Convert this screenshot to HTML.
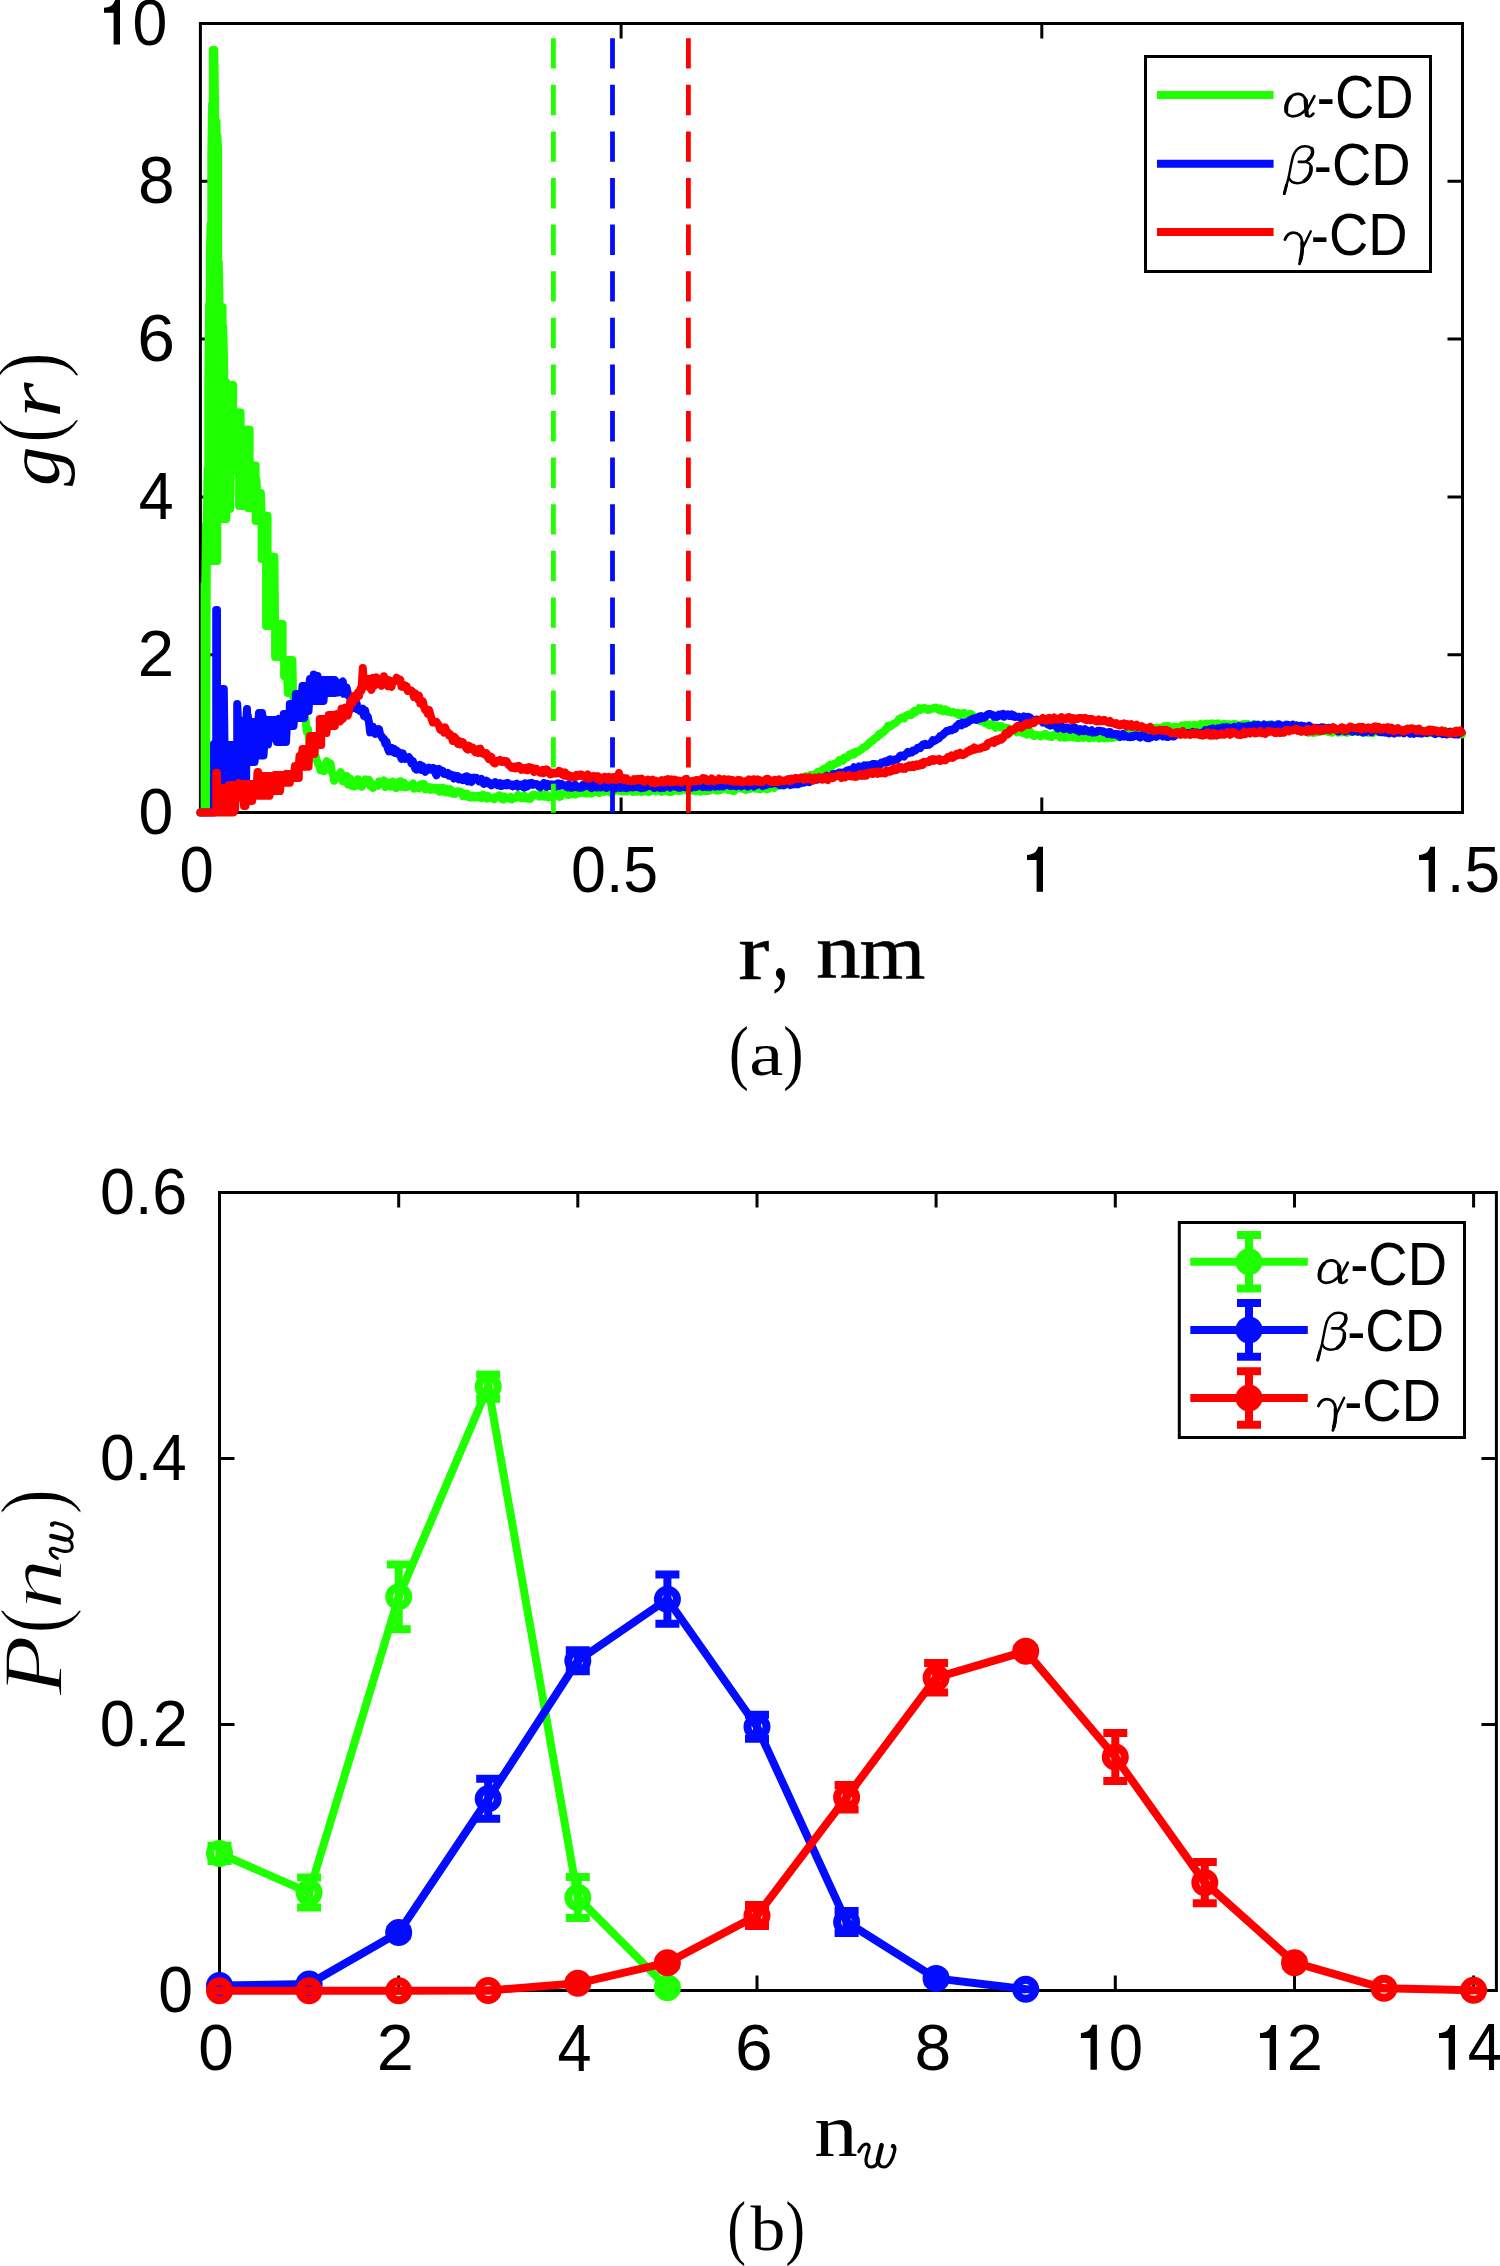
<!DOCTYPE html><html><head><meta charset="utf-8"><style>html,body{margin:0;padding:0;background:#fff;overflow:hidden}svg{display:block}.s{font-family:"Liberation Sans",sans-serif}.m{font-family:"Liberation Serif",serif}</style></head><body>
<svg width="1500" height="2266" viewBox="0 0 1500 2266">
<rect width="1500" height="2266" fill="#fff"/>
<path d="M200.4 23.4H1462.5V812.5H200.4ZM200.4 654.7h13.5M1462.5 654.7h-13.5M200.4 496.9h13.5M1462.5 496.9h-13.5M200.4 339h13.5M1462.5 339h-13.5M200.4 181.2h13.5M1462.5 181.2h-13.5M621.1 812.5v-13.5M621.1 23.4v13.5M1041.8 812.5v-13.5M1041.8 23.4v13.5" fill="none" stroke="#000" stroke-width="3" stroke-linecap="square"/>
<path d="M200.4 812.5L204.6 812.5L204.6 584L204.6 808L205.3 808L205.3 584L206.1 524L206.1 808L206.8 561L206.8 524L207.6 469L207.6 561L208.3 561L208.3 384L209.1 304L209.1 561L209.8 561L209.8 254L210.6 224L210.6 561L211.3 561L211.3 154L212.1 104L212.1 561L212.8 561L212.8 50L213.6 50L213.6 561L214.3 561L214.3 50L215.1 107.6L215.1 561L215.8 561L215.8 122L216.6 122L216.6 561L217.3 561L217.3 135.5L218.1 149L218.1 519L218.8 519L218.8 262L219.6 307L219.6 519L220.3 519L220.3 307L221.1 307L221.1 519L221.8 519L221.8 307L222.6 307L222.6 519L223.3 519L223.3 327L224.1 364L224.1 519L224.8 519L224.8 382L225.6 382L225.6 519L226.3 519L226.3 382L227.1 385L227.1 509L227.8 509L227.8 385L228.6 385L228.6 509L229.3 509L229.3 385L230.1 385L230.1 509L230.8 470L230.8 385L231.6 385L231.6 470L232.3 470L232.3 385L233.1 385L233.1 470L233.8 470L233.8 412.5L234.6 412.5L234.6 470L235.3 470L235.3 412.5L236.1 412.5L236.1 470L236.8 470L236.8 412.5L237.6 412.5L237.6 470L238.3 470L238.3 412.5L239.1 412.5L239.1 506L239.8 506L239.8 412.5L240.6 412.5L240.6 506L241.3 506L241.3 429.7L242.1 429.7L242.1 506L242.8 506L242.8 429.7L243.6 429.7L243.6 506L244.3 506L244.3 429.7L245.1 429.7L245.1 506L245.8 506L245.8 429.7L246.6 429.7L246.6 506L247.3 506L247.3 429.7L248.1 429.7L248.1 508L248.8 508L248.8 429.7L249.6 429.7L249.6 508L250.3 508L250.3 465.5L251.1 465.5L251.1 508L251.8 508L251.8 465.5L252.6 465.5L252.6 508L253.3 508L253.3 465.5L254.1 465.5L254.1 508L254.8 508L254.8 465.5L255.6 465.5L255.6 521L256.4 521L256.4 479.3L257.1 493L257.1 521L257.9 521L257.9 493L258.6 493L258.6 521L259.4 521L259.4 493L260.1 493L260.1 521L260.9 521L260.9 493L261.6 515.8L261.6 559L262.4 559L262.4 515.8L263.1 515.8L263.1 559L263.9 559L263.9 515.8L264.6 515.8L264.6 559L265.4 559L265.4 515.8L266.1 515.8L266.1 626L266.9 626L266.9 515.8L267.6 515.8L267.6 626L268.4 626L268.4 556.8L269.1 556.8L269.1 626L269.9 626L269.9 556.8L270.6 556.8L270.6 626L271.4 626L271.4 556.8L272.1 556.8L272.1 626L272.9 626L272.9 556.8L273.6 556.8L273.6 626L274.4 626L274.4 556.8L275.1 624L275.1 657L275.9 657L275.9 624L276.6 624L276.6 657L277.4 657L277.4 624L278.1 624L278.1 657L278.9 657L278.9 624L279.6 624L279.6 657L280.4 657L280.4 624L281.1 624L281.1 657L281.9 657L281.9 624L282.6 624L282.6 657L283.4 658.5L284.1 660L284.1 676L284.9 676L284.9 660L285.6 660L285.6 676L286.4 676L286.4 660L287.1 660L287.1 676L287.9 693L287.9 660L288.6 660L288.6 693L289.4 693L289.4 660L290.1 660L290.1 693L290.9 693L290.9 660L291.6 660L291.6 693L292.4 693L292.4 660L293.1 697L293.9 697L294.6 701L294.6 701L295.4 701L295.4 701L296.1 701L296.1 701L296.9 701L296.9 701L297.6 701L297.6 701L298.4 701L298.4 701L300.5 707.5L301.8 714L303 717.5L304.2 715.2L305.5 719.3L306.8 731.6L308 729.2L309.2 741.6L310.5 749.4L311.8 751.3L313 751.7L314.2 753.5L315.5 755.6L316.8 760.2L318 763.9L319.2 764.9L320.5 770.3L321.8 769.5L323 767.3L324.2 771.2L325.5 763.8L326.8 761.3L328 767.8L329.2 764.6L330.5 763.6L331.8 771.8L333 774.6L334.2 780.8L335.5 779.2L336.8 777.5L338 777.5L339.2 775.1L340.5 772.1L341.8 774.3L343 781.3L344.2 777.7L345.5 778.9L346.8 775.9L348 784.4L349.2 779.3L350.5 778.8L351.8 785.9L353 783.6L354.2 786.3L355.5 785L356.8 785.6L358 779.3L359.2 782.3L360.5 783.2L361.8 786.8L363 782.8L364.2 783.9L365.5 779.4L366.8 781.4L368 781.7L369.2 780L370.5 785.9L371.8 783.5L373 788L374.2 785.9L375.5 785.1L376.8 785.4L378 785.8L379.2 781.4L380.5 782.8L381.8 781.7L383 782.6L384.2 780.5L385.5 787L386.8 782.6L388 784.8L389.2 782.8L390.5 786.6L391.8 786L393 781.5L394.2 785.9L395.5 788L396.8 787.9L398 785.3L399.2 781.5L400.5 781.2L401.8 786.9L403 785.8L404.2 782.8L405.5 787.4L406.8 787.2L408 786.6L409.2 785.4L410.5 785.6L411.8 784.8L413 783.5L414.2 788.7L415.5 787.4L416.8 787.3L418 785.9L419.2 788.3L420.5 784.4L421.8 785.4L423 783.8L424.2 783.9L425.5 789.3L426.8 788.7L428 787L429.2 787.4L430.5 789.8L431.8 787.4L433 788.2L434.2 789.3L435.5 787.7L436.8 788.4L438 790.2L439.2 791.6L440.5 787.7L441.8 791.4L443 787.5L444.2 790.7L445.5 792.3L446.8 789L448 789.9L449.2 792.7L450.5 789.2L451.8 791.7L453 793.7L454.2 792.7L455.5 793.7L456.8 791.7L458 791.2L459.2 792.2L460.5 791.8L461.8 792.7L463 796.2L464.2 795.3L465.5 794L466.8 793.6L468 797L469.2 795.5L470.5 797.5L471.8 796L473 795.6L474.2 797.5L475.5 797.3L476.8 796.4L478 795.6L479.2 797.6L480.5 796.1L481.8 798L483 794.7L484.2 795.5L485.5 796.4L486.8 798.6L488 796L489.2 797.8L490.5 797.9L491.8 798.1L493 797.8L494.2 799.3L495.5 797L496.8 796.6L498 795.9L499.2 795.2L500.5 795.8L501.8 799.1L503 799.6L504.2 796.5L505.5 797.9L506.8 798L508 798.3L509.2 798.6L510.5 797.1L511.8 799.4L513 797.9L514.2 797.9L515.5 798L516.8 796.1L518 795L519.2 796.2L520.5 798L521.8 798.5L523 798.2L524.2 795.7L525.5 798.3L526.8 798.6L528 798.8L529.2 797.5L530.5 798.7L531.8 795.6L533 794.7L534.2 794.6L535.5 795.4L536.8 795.5L538 795.2L539.2 796.5L540.5 794.7L541.8 796.3L543 795.1L544.2 796.6L545.5 794.4L546.8 794.8L548 797.4L549.2 796.4L550.5 796.9L551.8 796.5L553 796.1L554.2 794.4L555.5 795.3L556.8 793.6L558 795.8L559.2 797L560.5 796.7L561.8 793.4L563 793.5L564.2 793.5L565.5 792.6L566.8 794.1L568 795L569.2 793.2L570.5 794.5L571.8 794.6L573 791.9L574.2 793.6L575.5 794.5L576.8 792L578 792.7L579.2 793.2L580.5 793.1L581.8 791.2L583 792.7L584.2 793L585.5 793.6L586.8 793.6L588 791.8L589.2 792.7L590.5 793.5L591.8 793.7L593 791L594.2 789.9L595.5 791.9L596.8 790.8L598 791.6L599.2 793.1L600.5 791.5L601.8 790.5L603 791.1L604.2 791.9L605.5 790.2L606.8 790.6L608 790L609.2 791.6L610.5 792.6L611.8 791.1L613 790.7L614.2 791.3L615.5 790.3L616.8 790.1L618 790.4L619.2 790.9L620.5 789.7L621.8 791.6L623 791.6L624.2 790.4L625.5 789.4L626.8 791.5L628 790L629.2 789.4L630.5 789.4L631.8 789.2L633 791.9L634.2 790.4L635.5 790L636.8 791.8L638 791.5L639.2 789.8L640.5 790.3L641.8 791.9L643 790.6L644.2 791.3L645.5 789.5L646.8 791L648 791.7L649.2 791.9L650.5 791.4L651.8 790.2L653 788.9L654.2 790.2L655.5 791.3L656.8 789.6L658 789.4L659.2 790.3L660.5 791.2L661.8 791.8L663 789.4L664.2 788.9L665.5 791L666.8 791L668 791.1L669.2 792L670.5 792L671.8 791.6L673 791.3L674.2 790L675.5 790.5L676.8 789.1L678 790.6L679.2 791.1L680.5 790.9L681.8 790L683 789.5L684.2 789.6L685.5 788.3L686.8 790.7L688 790.3L689.2 789.6L690.5 789.9L691.8 790.6L693 789.6L694.2 790.8L695.5 791.4L696.8 789.8L698 788.5L699.2 790.3L700.5 791.5L701.8 789L703 790.1L704.2 790.9L705.5 791.3L706.8 788.8L708 788L709.2 790.9L710.5 788.8L711.8 788.3L713 789.6L714.2 789.5L715.5 790.3L716.8 788.7L718 790.6L719.2 788.9L720.5 790.1L721.8 788.3L723 789L724.2 787.9L725.5 788.4L726.8 788.6L728 789.9L729.2 789.4L730.5 787.8L731.8 790.5L733 790.9L734.2 790.9L735.5 788.7L736.8 788.6L738 788.2L739.2 787.7L740.5 787.3L741.8 788.7L743 787.9L744.2 787.7L745.5 789.9L746.8 789.2L748 787.9L749.2 789.1L750.5 788.1L751.8 788.5L753 787.9L754.2 788.3L755.5 788.8L756.8 788.5L758 787.9L759.2 788.9L760.5 789.4L761.8 787.1L763 786.4L764.2 786.2L765.5 788.8L766.8 789.3L768 786.9L769.2 788.6L770.5 786.6L771.8 786.9L773 787L774.2 788L775.5 785.2L776.8 785.1L778 785.9L779.2 784.1L780.5 783.9L781.8 784.4L783 785.6L784.2 785.2L785.5 785L786.8 784.5L788 784L789.2 784.1L790.5 783.3L791.8 783L793 781.4L794.2 780.3L795.5 781.7L796.8 780L798 781.6L799.2 780.8L800.5 779.3L801.8 780.5L803 778L804.2 777.9L805.5 776.3L806.8 778.2L808 777.1L809.2 777L810.5 775L811.8 775.7L813 775.2L814.2 774.4L815.5 774.8L816.8 772.8L818 771.8L819.2 772.1L820.5 772.2L821.8 770.1L823 770.2L824.2 768.5L825.5 768.6L826.8 769L828 766.3L829.2 767.1L830.5 764.7L831.8 766.4L833 764.9L834.2 763.7L835.5 763.9L836.8 762.8L838 762.7L839.2 760.1L840.5 760.4L841.8 760.1L843 760.7L844.2 757.5L845.5 757.4L846.8 757.7L848 756.9L849.2 754.7L850.5 755.3L851.8 753.9L853 752.9L854.2 754.4L855.5 752.1L856.8 751.6L858 751.8L859.2 751L860.5 749.6L861.8 749.4L863 747.6L864.2 746.9L865.5 746.8L866.8 745.6L868 744.5L869.2 742.8L870.5 742.2L871.8 740.9L873 740.8L874.2 738.8L875.5 737.7L876.8 737.6L878 736L879.2 734.1L880.5 734.5L881.8 732.4L883 732.4L884.2 731.4L885.5 729.2L886.8 728.7L888 725.7L889.2 725.5L890.5 726.5L891.8 725.2L893 724.1L894.2 723.7L895.5 723L896.8 721.9L898 720.6L899.2 718.9L900.5 718.3L901.8 717.6L903 717.2L904.2 718.4L905.5 716.2L906.8 715.3L908 714.6L909.2 714.5L910.5 715.2L911.8 714.7L913 712.4L914.2 711L915.5 712.3L916.8 710.9L918 710.6L919.2 708.2L920.5 709.8L921.8 708.6L923 708.7L924.2 707.9L925.5 708.3L926.8 709.7L928 710L929.2 708.8L930.5 709.4L931.8 708.6L933 708.1L934.2 708.5L935.5 707.5L936.8 707.8L938 709.4L939.2 710.2L940.5 708.4L941.8 710.3L943 711.4L944.2 710.6L945.5 709.4L946.8 711.4L948 710.8L949.2 712.1L950.5 711.8L951.8 712.7L953 711.9L954.2 712.6L955.5 713.2L956.8 713.8L958 712.8L959.2 715.1L960.5 713.8L961.8 713.4L963 713.4L964.2 712.9L965.5 714.1L966.8 715.6L968 715.8L969.2 714.3L970.5 713.8L971.8 714.5L973 716.2L974.2 716.5L975.5 718.4L976.8 718.7L978 719.2L979.2 720.5L980.5 721.3L981.8 720.8L983 721L984.2 722.3L985.5 723.5L986.8 723.2L988 724.3L989.2 725.4L990.5 724.3L991.8 724.2L993 724.6L994.2 725.2L995.5 727.7L996.8 725.6L998 725.7L999.2 726L1000.5 727.3L1001.8 726.3L1003 727.6L1004.2 727.2L1005.5 727.6L1006.8 729.5L1008 728.3L1009.2 729.4L1010.5 729.3L1011.8 729.4L1013 730.9L1014.2 729.5L1015.5 731.6L1016.8 732.4L1018 731.9L1019.2 730.1L1020.5 731.8L1021.8 732.3L1023 733.1L1024.2 731.7L1025.5 733.9L1026.8 734.5L1028 732.2L1029.2 732.5L1030.5 731.9L1031.8 734.4L1033 735.5L1034.2 736L1035.5 735L1036.8 735.1L1038 735.4L1039.2 735.2L1040.5 736.5L1041.8 735.8L1043 734.8L1044.2 735.2L1045.5 733.9L1046.8 735.8L1048 736.4L1049.2 735.6L1050.5 736.8L1051.8 737L1053 735.7L1054.2 734.6L1055.5 734.6L1056.8 734.9L1058 735.3L1059.2 735.9L1060.5 737.6L1061.8 736L1063 737.4L1064.2 737.3L1065.5 737.7L1066.8 736.5L1068 734.9L1069.2 737.1L1070.5 736.1L1071.8 735.4L1073 737.4L1074.2 737.6L1075.5 736.1L1076.8 735.9L1078 738.1L1079.2 736.6L1080.5 737.5L1081.8 736L1083 737.8L1084.2 736.1L1085.5 736.9L1086.8 735.7L1088 736.9L1089.2 738.3L1090.5 736.2L1091.8 736.2L1093 737.9L1094.2 737.8L1095.5 736.8L1096.8 737.6L1098 737.3L1099.2 738.5L1100.5 737L1101.8 738L1103 738.1L1104.2 738.3L1105.5 737.3L1106.8 738.1L1108 738.2L1109.2 737L1110.5 735.5L1111.8 738L1113 737.8L1114.2 735.9L1115.5 737L1116.8 735.9L1118 736L1119.2 737.2L1120.5 736L1121.8 734.9L1123 734.6L1124.2 733.7L1125.5 733.7L1126.8 733.7L1128 733.2L1129.2 732.5L1130.5 733.5L1131.8 732.7L1133 733.9L1134.2 734.7L1135.5 732.5L1136.8 732.7L1138 732.5L1139.2 730.8L1140.5 730.4L1141.8 732.6L1143 731.6L1144.2 732.1L1145.5 729.8L1146.8 730.6L1148 731.6L1149.2 731.6L1150.5 728.6L1151.8 729.3L1153 729L1154.2 729.9L1155.5 727.8L1156.8 727.6L1158 729.2L1159.2 728.3L1160.5 727.8L1161.8 729.3L1163 727.6L1164.2 726.1L1165.5 726.9L1166.8 726.3L1168 725.8L1169.2 727.2L1170.5 728.7L1171.8 727.7L1173 727.6L1174.2 726.5L1175.5 726.9L1176.8 727.6L1178 727.1L1179.2 727.6L1180.5 726.9L1181.8 725.5L1183 726.3L1184.2 726.2L1185.5 725.1L1186.8 726.1L1188 727L1189.2 725L1190.5 725.7L1191.8 726.5L1193 725.5L1194.2 724.8L1195.5 724.9L1196.8 725.5L1198 726L1199.2 725.6L1200.5 724L1201.8 725.8L1203 726.7L1204.2 724.1L1205.5 723.8L1206.8 723.6L1208 725.6L1209.2 726.3L1210.5 723.5L1211.8 723.7L1213 723.4L1214.2 724.2L1215.5 725.9L1216.8 723.6L1218 723.3L1219.2 724.4L1220.5 724.8L1221.8 725.6L1223 724.9L1224.2 723.7L1225.5 724.2L1226.8 726.4L1228 726.2L1229.2 724.1L1230.5 725.8L1231.8 724.8L1233 726L1234.2 724L1235.5 726.1L1236.8 724.6L1238 725L1239.2 725.9L1240.5 725.7L1241.8 724.5L1243 724.1L1244.2 724.5L1245.5 723.9L1246.8 724.3L1248 724.1L1249.2 725.1L1250.5 725L1251.8 725.7L1253 724.9L1254.2 723.9L1255.5 724.6L1256.8 726.2L1258 724.9L1259.2 725L1260.5 726.2L1261.8 725.4L1263 726.6L1264.2 727.1L1265.5 725.2L1266.8 726.1L1268 725L1269.2 724.4L1270.5 725.4L1271.8 726.3L1273 727.6L1274.2 725.5L1275.5 726.8L1276.8 726.6L1278 725.5L1279.2 728L1280.5 728L1281.8 726.1L1283 728.2L1284.2 726.4L1285.5 725.9L1286.8 726.8L1288 729L1289.2 726.8L1290.5 729L1291.8 729L1293 727.3L1294.2 728.6L1295.5 728.9L1296.8 729.4L1298 730.2L1299.2 730.4L1300.5 731.6L1301.8 729.4L1303 731L1304.2 730.5L1305.5 731.6L1306.8 732.4L1308 732.9L1309.2 730.7L1310.5 730.8L1311.8 732.5L1313 732.9L1314.2 731.2L1315.5 732.5L1316.8 731.3L1318 730.9L1319.2 732.1L1320.5 731.5L1321.8 731.3L1323 731.1L1324.2 731.2L1325.5 730.4L1326.8 729.9L1328 732.1L1329.2 732.1L1330.5 732.3L1331.8 732.8L1333 731.2L1334.2 730.8L1335.5 731L1336.8 731.1L1338 732.6L1339.2 731.8L1340.5 731.3L1341.8 732.3L1343 731.1L1344.2 730.4L1345.5 732.2L1346.8 732.8L1348 731.4L1349.2 732.1L1350.5 730.5L1351.8 731.1L1353 732L1354.2 731.1L1355.5 731.1L1356.8 731.9L1358 732.1L1359.2 730.7L1360.5 732L1361.8 730.5L1363 732.8L1364.2 731L1365.5 730.6L1366.8 730.4L1368 732.8L1369.2 731.2L1370.5 731.7L1371.8 733.1L1373 733.2L1374.2 730.3L1375.5 731.1L1376.8 731.7L1378 732.1L1379.2 731L1380.5 730.7L1381.8 729.6L1383 729.4L1384.2 731.1L1385.5 730L1386.8 730L1388 730.4L1389.2 729.7L1390.5 729.4L1391.8 732.1L1393 731.2L1394.2 730.1L1395.5 731.5L1396.8 729.7L1398 729.8L1399.2 732.3L1400.5 732.6L1401.8 731.8L1403 729.9L1404.2 730.2L1405.5 729.6L1406.8 730L1408 729.5L1409.2 729.8L1410.5 731.5L1411.8 730.2L1413 730L1414.2 732.4L1415.5 731.3L1416.8 730.9L1418 730.1L1419.2 732.2L1420.5 732.4L1421.8 732L1423 732.1L1424.2 730.6L1425.5 730.8L1426.8 731.9L1428 733.4L1429.2 733.3L1430.5 732.7L1431.8 732.2L1433 730.6L1434.2 732.9L1435.5 731.1L1436.8 730.7L1438 732.5L1439.2 733.4L1440.5 733.4L1441.8 732.4L1443 731.3L1444.2 730.7L1445.5 733.2L1446.8 734.3L1448 732.1L1449.2 733.5L1450.5 732.6L1451.8 732L1453 732.6L1454.2 731.2L1455.5 732.2L1456.8 731.8L1458 733.3L1459.2 733.1L1460.5 734.1L1461.8 734.5" fill="none" stroke="#1fff00" stroke-width="8" stroke-linejoin="round" stroke-linecap="round"/>
<path d="M200.4 812.5L214 812.5L214 744L214 781L214.8 781L214.8 744L215.5 744L215.5 781L216.2 781L216.2 610L217 610L217 781L217.8 781L217.8 689L218.5 689L218.5 781L219.2 781L219.2 689L220 689L220 781L220.8 781L220.8 689L221.5 689L221.5 781L222.2 781L222.2 689L223 689L223 781L223.8 781L223.8 689L224.5 745L224.5 781L225.2 781L225.2 745L226 745L226 781L226.8 781L226.8 745L227.5 745L227.5 781L228.2 781L228.2 745L229 745L229 781L229.8 781L229.8 745L230.5 745L230.5 781L231.2 773L231.2 745L232 745L232 773L232.8 773L232.8 745L233.5 745L233.5 773L234.2 773L234.2 745L235 745L235 773L235.8 773L235.8 745L236.5 745L236.5 773L237.2 779L237.2 704L238 721L238 779L238.8 779L238.8 721L239.5 721L239.5 779L240.2 779L240.2 721L241 721L241 779L241.8 779L241.8 721L242.5 721L242.5 779L243.2 779L243.2 721L244 721L244 779L244.8 779L244.8 721L245.5 721L245.5 779L246.2 779L246.2 721L247 709L247 762L247.8 762L247.8 715.5L248.5 722L248.5 762L249.2 762L249.2 722L250 722L250 762L250.8 762L250.8 722L251.5 722L251.5 762L252.2 762L252.2 722L253 722L253 762L253.8 762L253.8 722L254.5 722L254.5 762L255.2 755.6L255.2 722L256 722L256 755.6L256.8 755.6L256.8 722L257.5 722L257.5 755.6L258.2 755.6L258.2 722L259 713L259 755.6L259.8 755.6L259.8 713L260.5 713L260.5 755.6L261.2 755.6L261.2 713L262 713L262 755.6L262.8 755.6L262.8 716.5L263.5 720L263.5 755.6L264.2 744.4L264.2 720L265 720L265 744.4L265.8 744.4L265.8 720L266.5 720L266.5 744.4L267.2 744.4L267.2 720L268 720L268 744.4L268.8 738L268.8 720L269.5 720L269.5 738L270.2 738L270.2 720L271 720L271 738L271.8 738L271.8 720L272.5 720L272.5 738L273.2 738L273.2 720L274 720L274 738L274.8 738L274.8 720L275.5 720L275.5 738L276.2 738L276.2 720L277 720L277 742L277.8 742L277.8 720L278.5 719L278.5 742L279.2 742L279.2 719L280 719L280 742L280.8 742L280.8 719L281.5 719L281.5 742L282.2 742L282.2 719L283 719L283 742L283.8 742L283.8 714L284.5 714L284.5 742L285.2 742L285.2 714L286 714L286 742L286.8 726L286.8 714L287.5 714L287.5 726L288.2 726L288.2 714L289 714L289 726L289.8 726L289.8 704L290.5 704L290.5 726L291.2 726L291.2 704L292 704L292 726L292.8 726L292.8 704L293.5 704L293.5 726L294.2 718L294.2 704L295 704L295 718L295.8 718L295.8 694L296.5 694L296.5 718L297.2 718L297.2 694L298 694L298 718L298.8 718L298.8 694L299.5 694L299.5 718L300.2 718L300.2 694L301 694L301 718L301.8 718L301.8 694L302.5 686L302.5 718L303.2 718L303.2 686L304 686L304 718L304.8 711L304.8 686L305.5 686L305.5 711L306.2 711L306.2 686L307 686L307 711L307.8 711L307.8 686L308.5 686L308.5 711L309.2 701L309.2 686L310 679L310 701L310.8 701L310.8 679L311.5 679L311.5 701L312.2 701L312.2 679L313 679L313 701L313.8 701L313.8 674.5L314.5 676L314.5 701L315.2 701L315.2 676L316 676L316 701L316.8 701L316.8 676L317.5 676L317.5 701L318.2 701L318.2 680L319 680L319 701L319.8 701L319.8 680L320.5 680L320.5 701L321.2 701L321.2 680L322 680L322 701L322.8 701L322.8 680L323.5 680L323.5 701L324.2 693L324.2 680L325 680L325 693L325.8 693L325.8 680L326.5 680L326.5 693L327.2 693L327.2 680L328 680L328 693L328.8 693L328.8 680L329.5 680L329.5 693L330.2 693L330.2 680L331 680L331 693L331.8 693L331.8 680L332.5 680L332.5 693L333.2 693L333.2 680L334 680L334 693L334.8 693L334.8 680L336.5 683L337.8 683.4L339 692.4L340.2 689.2L341.5 682.9L342.8 681.4L344 693.8L345.2 693.3L346.5 687.3L347.8 693.2L349 696.3L350.2 697.3L351.5 705L352.8 708.3L354 699.8L355.2 698.8L356.5 702.9L357.8 709.6L359 709.5L360.2 711.2L361.5 711.4L362.8 708.6L364 715.8L365.2 710.4L366.5 717.2L367.8 716.7L369 722.4L370.2 732.4L371.5 731.9L372.8 726.6L374 729.8L375.2 733.8L376.5 729.1L377.8 730.3L379 729.2L380.2 734.6L381.5 736.1L382.8 738.7L384 738.8L385.2 743.5L386.5 741.7L387.8 748.5L389 751.4L390.2 748.2L391.5 747.8L392.8 752L394 748.8L395.2 752.9L396.5 750.4L397.8 753.8L399 752.4L400.2 754.7L401.5 758.9L402.8 753.4L404 758.7L405.2 759L406.5 758.1L407.8 758.5L409 757.3L410.2 759.2L411.5 763.3L412.8 761L414 764.9L415.2 768.6L416.5 769.7L417.8 769.4L419 769.1L420.2 764.8L421.5 769.8L422.8 766.2L424 770L425.2 771.7L426.5 770.3L427.8 769.6L429 767.6L430.2 769.6L431.5 769L432.8 767.9L434 768.1L435.2 772.9L436.5 775.2L437.8 770.7L439 769L440.2 770.8L441.5 770.6L442.8 771.1L444 774L445.2 773.9L446.5 773.9L447.8 772.9L449 775.6L450.2 774.3L451.5 774.7L452.8 775.6L454 778.6L455.2 775.6L456.5 777.7L457.8 776.2L459 779.3L460.2 777.5L461.5 777.7L462.8 780.2L464 779.9L465.2 776.6L466.5 776.3L467.8 781.3L469 777.4L470.2 777.8L471.5 781.9L472.8 777.9L474 777.6L475.2 778.3L476.5 777.9L477.8 780L479 781.3L480.2 780.2L481.5 779.1L482.8 782.7L484 783.9L485.2 782.9L486.5 780.7L487.8 782.5L489 783.8L490.2 783.2L491.5 785.4L492.8 783.8L494 783.9L495.2 782.1L496.5 783.8L497.8 785.4L499 785.4L500.2 783.1L501.5 786.1L502.8 785.6L504 783.9L505.2 783.5L506.5 785.2L507.8 782.9L509 784.4L510.2 785.4L511.5 784.7L512.8 786.2L514 784.8L515.2 784.4L516.5 783.7L517.8 786.5L519 784.6L520.2 785.7L521.5 784.8L522.8 786.8L524 787.5L525.2 783.4L526.5 786.7L527.8 786L529 783.3L530.2 784.5L531.5 783L532.8 784.7L534 783.7L535.2 784.1L536.5 784L537.8 785.2L539 786.5L540.2 787.2L541.5 784.7L542.8 785.1L544 783L545.2 784L546.5 786.8L547.8 783.9L549 786.2L550.2 786.1L551.5 784.5L552.8 786.1L554 784.7L555.2 786.7L556.5 784.1L557.8 783.5L559 786.1L560.2 785.6L561.5 784.1L562.8 785.3L564 784.9L565.2 785.7L566.5 786.8L567.8 787.4L569 784.5L570.2 785.8L571.5 787.9L572.8 786.3L574 787L575.2 784.7L576.5 787.1L577.8 786.8L579 787.7L580.2 787.6L581.5 787.8L582.8 784.8L584 786.6L585.2 785.3L586.5 785.1L587.8 785.4L589 786.5L590.2 786.9L591.5 788.1L592.8 784.9L594 784.8L595.2 785.6L596.5 787.5L597.8 786.9L599 786.6L600.2 787.5L601.5 787.3L602.8 785.9L604 784.8L605.2 786L606.5 787.9L607.8 787.2L609 785L610.2 785.9L611.5 786L612.8 786.7L614 786.9L615.2 788.2L616.5 786.3L617.8 786L619 786.8L620.2 788L621.5 787.6L622.8 786.6L624 787.6L625.2 786.7L626.5 788.1L627.8 786.1L629 785L630.2 787.3L631.5 786.1L632.8 787.5L634 787.2L635.2 786.6L636.5 785.1L637.8 787.1L639 785.2L640.2 787.7L641.5 788.2L642.8 786.1L644 785L645.2 787.5L646.5 786.8L647.8 785.2L649 786.2L650.2 785.6L651.5 786L652.8 786.9L654 788L655.2 787.8L656.5 785.5L657.8 786L659 786.3L660.2 788L661.5 785.3L662.8 786L664 787.7L665.2 786.3L666.5 785.4L667.8 786.2L669 785.6L670.2 787.5L671.5 785.1L672.8 784.8L674 784.5L675.2 786.5L676.5 785.5L677.8 787.2L679 787.7L680.2 787.8L681.5 785.5L682.8 784.1L684 785.1L685.2 787.4L686.5 787.2L687.8 784.6L689 786.1L690.2 787.4L691.5 787.7L692.8 786.9L694 787.1L695.2 787.2L696.5 785.5L697.8 784.2L699 786.1L700.2 784.6L701.5 784.9L702.8 787.1L704 786.2L705.2 785.7L706.5 787L707.8 785.2L709 787L710.2 787.3L711.5 785.4L712.8 784.8L714 784.1L715.2 786.6L716.5 784.8L717.8 783.6L719 786.4L720.2 786.1L721.5 786.1L722.8 786.4L724 784.1L725.2 783.7L726.5 785L727.8 783.9L729 785L730.2 786.1L731.5 786L732.8 785.8L734 783.9L735.2 784L736.5 786.3L737.8 784.3L739 784.9L740.2 783.7L741.5 786.2L742.8 784.4L744 784.5L745.2 785.1L746.5 785.8L747.8 786.6L749 786L750.2 784.6L751.5 783.3L752.8 785.1L754 786.4L755.2 783.5L756.5 785.1L757.8 783.8L759 784.1L760.2 784.5L761.5 784.8L762.8 786.1L764 785.3L765.2 784.1L766.5 784.9L767.8 784.3L769 783.8L770.2 783.6L771.5 783.9L772.8 783.3L774 783L775.2 782.6L776.5 783.4L777.8 783.1L779 784.7L780.2 785.1L781.5 783.5L782.8 783.9L784 785L785.2 783.4L786.5 783.6L787.8 783.3L789 783.8L790.2 785L791.5 782.5L792.8 784.5L794 784.1L795.2 784.3L796.5 783.8L797.8 784.4L799 782.8L800.2 783.5L801.5 782.1L802.8 782.2L804 782.7L805.2 781L806.5 779.9L807.8 781.9L809 782.2L810.2 781.5L811.5 780L812.8 780.5L814 778.7L815.2 779.8L816.5 779.7L817.8 779.5L819 778.7L820.2 777.6L821.5 778.7L822.8 778L824 778.4L825.2 777.2L826.5 775.7L827.8 776.6L829 776.8L830.2 777.4L831.5 777.2L832.8 774.1L834 775.4L835.2 773.9L836.5 774.5L837.8 773.5L839 772.6L840.2 772.7L841.5 772.6L842.8 772.8L844 772.4L845.2 772.1L846.5 770.8L847.8 771.1L849 769.9L850.2 770.1L851.5 769.4L852.8 769.2L854 767.3L855.2 768.2L856.5 767.5L857.8 767.5L859 766.4L860.2 767.8L861.5 768.8L862.8 767L864 765.6L865.2 766.8L866.5 765.4L867.8 767.2L869 765.2L870.2 765.1L871.5 765.4L872.8 764.1L874 764.2L875.2 764L876.5 765.1L877.8 766.1L879 764.1L880.2 764.7L881.5 762.5L882.8 762.9L884 762.4L885.2 761.3L886.5 762.4L887.8 762.2L889 759.7L890.2 759.3L891.5 760.6L892.8 761.1L894 759.6L895.2 759.6L896.5 759.7L897.8 758.6L899 757.6L900.2 755.7L901.5 755.4L902.8 755.9L904 756.6L905.2 754.4L906.5 753.7L907.8 752L909 753.2L910.2 752.4L911.5 752.6L912.8 750.5L914 750.8L915.2 750.5L916.5 749.3L917.8 747.6L919 747.4L920.2 748.1L921.5 746L922.8 744.6L924 745.1L925.2 744L926.5 745L927.8 744.9L929 744.7L930.2 743.8L931.5 742.5L932.8 740.3L934 741.1L935.2 740.5L936.5 739.7L937.8 738.8L939 738.3L940.2 736L941.5 735.9L942.8 734.9L944 733.4L945.2 732.5L946.5 731.1L947.8 731.3L949 730.4L950.2 729.8L951.5 730.4L952.8 729.5L954 728.7L955.2 728.9L956.5 726L957.8 725.6L959 723.8L960.2 723.7L961.5 725.3L962.8 722.5L964 723.4L965.2 723.8L966.5 722.3L967.8 722.5L969 721.1L970.2 720.1L971.5 720L972.8 718.6L974 718.4L975.2 718.1L976.5 719.9L977.8 718L979 716.8L980.2 718.6L981.5 716.3L982.8 717.9L984 717.8L985.2 716.7L986.5 715.5L987.8 714.5L989 714L990.2 713.9L991.5 714.7L992.8 715.1L994 716.8L995.2 715.9L996.5 717.1L997.8 716.6L999 714.6L1000.2 715.4L1001.5 714.5L1002.8 713.9L1004 716.7L1005.2 715.5L1006.5 714.6L1007.8 714.3L1009 716L1010.2 715.9L1011.5 714.4L1012.8 716.3L1014 715.5L1015.2 717L1016.5 716.7L1017.8 716.8L1019 716.8L1020.2 717.6L1021.5 718.9L1022.8 718.7L1024 716.5L1025.2 717.4L1026.5 717.1L1027.8 716.7L1029 717.1L1030.2 717.6L1031.5 720.1L1032.8 720.2L1034 720.6L1035.2 720.5L1036.5 719.4L1037.8 719.6L1039 720L1040.2 719.9L1041.5 720.7L1042.8 722.5L1044 721.1L1045.2 721.7L1046.5 723L1047.8 724.3L1049 724.9L1050.2 725.7L1051.5 724.3L1052.8 724.6L1054 725.3L1055.2 725.5L1056.5 727.1L1057.8 728.5L1059 727.9L1060.2 725.8L1061.5 726.3L1062.8 728.2L1064 729.2L1065.2 728.4L1066.5 727.6L1067.8 727.6L1069 728.7L1070.2 729.8L1071.5 728.5L1072.8 727.8L1074 727.3L1075.2 727.8L1076.5 730.3L1077.8 730.3L1079 731.5L1080.2 729.1L1081.5 729.4L1082.8 731.1L1084 731.2L1085.2 729.3L1086.5 730.1L1087.8 731.2L1089 731.7L1090.2 731.1L1091.5 730.3L1092.8 732.6L1094 731.8L1095.2 732.4L1096.5 732.1L1097.8 730.7L1099 731L1100.2 730.7L1101.5 731.1L1102.8 731.3L1104 732.2L1105.2 732.2L1106.5 732.4L1107.8 734L1109 732.1L1110.2 732L1111.5 734.5L1112.8 734.5L1114 734.2L1115.2 733.8L1116.5 734.8L1117.8 734.2L1119 736.2L1120.2 736.8L1121.5 735.3L1122.8 734L1124 736.5L1125.2 735.4L1126.5 736.1L1127.8 737L1129 737.1L1130.2 737.3L1131.5 736.2L1132.8 737L1134 736.2L1135.2 735.3L1136.5 735.9L1137.8 735.6L1139 736.9L1140.2 737.5L1141.5 735.4L1142.8 735L1144 735.8L1145.2 736.2L1146.5 737.9L1147.8 738.2L1149 738.2L1150.2 737.5L1151.5 737.1L1152.8 735.7L1154 735.7L1155.2 734.5L1156.5 736.8L1157.8 735.6L1159 734.5L1160.2 735.1L1161.5 735.2L1162.8 736.5L1164 734.5L1165.2 734.6L1166.5 736.8L1167.8 737.1L1169 736.3L1170.2 735.9L1171.5 734.7L1172.8 736.5L1174 736.5L1175.2 735.5L1176.5 734L1177.8 733.7L1179 734.1L1180.2 733.9L1181.5 732.9L1182.8 733.6L1184 733.8L1185.2 733.2L1186.5 733.2L1187.8 733L1189 732.9L1190.2 733.5L1191.5 733.2L1192.8 732L1194 733.5L1195.2 732.9L1196.5 732.3L1197.8 732.9L1199 733.1L1200.2 733.3L1201.5 733L1202.8 732.4L1204 732.2L1205.2 730.3L1206.5 731.4L1207.8 730.2L1209 729.7L1210.2 729.1L1211.5 729.7L1212.8 728.5L1214 730L1215.2 730.6L1216.5 730.6L1217.8 728.4L1219 729.3L1220.2 730.2L1221.5 727.6L1222.8 727.3L1224 727.5L1225.2 728L1226.5 727L1227.8 727.8L1229 727.4L1230.2 728.2L1231.5 728L1232.8 728.3L1234 726.9L1235.2 728L1236.5 728.4L1237.8 728.3L1239 726.1L1240.2 728.3L1241.5 727.8L1242.8 726.4L1244 726.6L1245.2 727L1246.5 726.9L1247.8 726L1249 725.8L1250.2 726L1251.5 727.4L1252.8 726.5L1254 725L1255.2 725.9L1256.5 725.4L1257.8 724.6L1259 727.4L1260.2 726L1261.5 726.1L1262.8 725.7L1264 724.6L1265.2 727L1266.5 727.7L1267.8 725.3L1269 725.4L1270.2 725.4L1271.5 724.7L1272.8 726L1274 726.7L1275.2 726.7L1276.5 726.4L1277.8 724.2L1279 724.3L1280.2 725.3L1281.5 726.2L1282.8 725.5L1284 725.5L1285.2 726.8L1286.5 724.6L1287.8 724.8L1289 725.2L1290.2 727.5L1291.5 725.7L1292.8 724.6L1294 725.7L1295.2 726.8L1296.5 725.4L1297.8 727.3L1299 725.9L1300.2 727L1301.5 725.8L1302.8 727.7L1304 726.2L1305.2 727.4L1306.5 728.2L1307.8 726.6L1309 725.7L1310.2 727.2L1311.5 727.5L1312.8 727.5L1314 728.5L1315.2 727.9L1316.5 727.8L1317.8 727.9L1319 727.9L1320.2 727.9L1321.5 727.2L1322.8 727.5L1324 727.6L1325.2 727.7L1326.5 729.5L1327.8 727.9L1329 727.8L1330.2 729L1331.5 728.7L1332.8 728.4L1334 728.9L1335.2 729.5L1336.5 730.2L1337.8 731.4L1339 731.4L1340.2 730.1L1341.5 729.8L1342.8 729.8L1344 729.2L1345.2 731.4L1346.5 729.2L1347.8 729L1349 730.6L1350.2 730.7L1351.5 729.8L1352.8 731.6L1354 730.5L1355.2 730.7L1356.5 729.3L1357.8 731.5L1359 729.7L1360.2 730L1361.5 731.8L1362.8 732.5L1364 732.4L1365.2 732.2L1366.5 730.3L1367.8 729.2L1369 730.4L1370.2 729.6L1371.5 732.2L1372.8 729.9L1374 730.2L1375.2 730.1L1376.5 729.5L1377.8 730.9L1379 730L1380.2 732.3L1381.5 732.3L1382.8 731.2L1384 732.4L1385.2 732.7L1386.5 731.2L1387.8 732.5L1389 733.3L1390.2 732.4L1391.5 731.3L1392.8 732.9L1394 733.5L1395.2 731.7L1396.5 730.5L1397.8 732.8L1399 732.8L1400.2 731.3L1401.5 732L1402.8 731.5L1404 733.2L1405.2 731.9L1406.5 731L1407.8 730.5L1409 731.3L1410.2 733.6L1411.5 731.7L1412.8 731.9L1414 733.7L1415.2 731.1L1416.5 731.2L1417.8 733.1L1419 731.3L1420.2 733.4L1421.5 733.7L1422.8 731.5L1424 732.4L1425.2 732.7L1426.5 733.1L1427.8 732L1429 731.9L1430.2 731.6L1431.5 731.6L1432.8 731.3L1434 733.6L1435.2 734.1L1436.5 732.4L1437.8 733.1L1439 732.7L1440.2 731.9L1441.5 732L1442.8 734L1444 732.6L1445.2 732.8L1446.5 734.2L1447.8 732.5L1449 733.6L1450.2 731.8L1451.5 733.3L1452.8 734L1454 734.2L1455.2 734.6L1456.5 733.9L1457.8 734.6L1459 732.6L1460.2 732.9L1461.5 732.1" fill="none" stroke="#040cff" stroke-width="8" stroke-linejoin="round" stroke-linecap="round"/>
<path d="M200.4 812.5L211 812.5L211 812.5L211.8 812.5L212.5 812.5L213.2 812.5L214 812.5L214.8 812.5L215.5 812.5L216.2 812.5L216.2 772.7L217 772.7L217 812.5L217.8 812.5L217.8 788L218.5 788L218.5 812.5L219.2 812.5L219.2 788L220 788L220 812.5L220.8 812.5L220.8 788L221.5 788L221.5 812.5L222.2 812.5L222.2 788L223 788L223 812.5L223.8 812.5L223.8 788L224.5 788L224.5 812.5L225.2 812.5L225.2 788L226 788L226 812.5L226.8 812.5L226.8 788L227.5 788L227.5 812.5L228.2 812.5L228.2 788L229 785L229 812.5L229.8 812.5L229.8 785L230.5 785L230.5 812.5L231.2 812.5L231.2 785L232 785L232 812.5L232.8 812.5L232.8 785L233.5 785L233.5 812.5L234.2 810L234.2 785L235 785L235 810L235.8 797.6L235.8 785L236.5 785L236.5 797.6L237.2 797.6L237.2 785L238 785L238 797.6L238.8 797.6L238.8 783L239.5 784L239.5 797.6L240.2 797.6L240.2 784L241 784L241 797.6L241.8 797.6L241.8 784L242.5 784L242.5 797.6L243.2 797.6L243.2 784L244 784L244 806L244.8 806L244.8 784L245.5 784L245.5 806L246.2 801L246.2 784L247 784L247 801L247.8 801L247.8 784L248.5 784L248.5 801L249.2 801L249.2 784L250 784L250 801L250.8 801L250.8 784L251.5 784L251.5 801L252.2 801L252.2 784L253 784L253 795.8L253.8 795.8L253.8 784L254.5 784L254.5 795.8L255.2 795.8L255.2 784L256 784L256 795.8L256.8 795.8L256.8 784L257.5 772L257.5 795.8L258.2 795.8L258.2 772L259 776L259 795.8L259.8 795.8L259.8 776L260.5 776L260.5 795.8L261.2 795.8L261.2 776L262 776L262 795.8L262.8 795.8L262.8 776L263.5 776L263.5 795.8L264.2 795.8L264.2 776L265 776L265 795.8L265.8 795.8L265.8 776L266.5 776L266.5 795.8L267.2 795.8L267.2 776L268 776L268 795.8L268.8 795.8L268.8 776L269.5 776L269.5 795.8L270.2 791L270.2 776L271 776L271 791L271.8 791L271.8 776L272.5 776L272.5 791L273.2 791L273.2 776L274 776L274 791L274.8 791L274.8 775L275.5 775L275.5 791L276.2 791L276.2 775L277 775L277 791L277.8 791L277.8 775L278.5 775L278.5 791L279.2 791L279.2 775L280 775L280 791L280.8 782.7L280.8 775L281.5 775L281.5 782.7L282.2 782.7L282.2 775L283 775L283 782.7L283.8 782.7L283.8 775L284.5 775L284.5 782.7L285.2 782.7L285.2 775L286 774L286 782.7L286.8 782.7L286.8 774L287.5 774L287.5 782.7L288.2 782.7L288.2 774L289 774L289 782.7L289.8 782.7L289.8 774L290.5 774L290.5 778L291.2 778L291.2 774L292 774L292 778L292.8 778L292.8 774L293.5 774L293.5 778L294.2 778L294.2 774L295 766L295 778L295.8 778L295.8 766L296.5 766L296.5 778L297.2 778L297.2 766L298 766L298 778L298.8 778L298.8 766L299.5 756L299.5 766.8L300.2 766.8L300.2 756L301 756L301 766.8L301.8 766.8L301.8 756L302.5 749L302.5 766.8L303.2 766.8L303.2 749L304 749L304 766.8L304.8 766.8L304.8 749L305.5 749L305.5 766.8L306.2 766.8L306.2 749L307 749L307 766.8L307.8 766.8L307.8 749L308.5 749L308.5 766.8L309.2 754L309.2 749L310 736L310 754L310.8 754L310.8 736L311.5 736L311.5 754L312.2 754L312.2 736L313 736L313 754L313.8 754L313.8 736L314.5 736L314.5 754L315.2 745L315.2 736L316 736L316 745L316.8 745L316.8 736L317.5 736L317.5 745L318.2 745L318.2 736L319 736L319 745L319.8 745L319.8 719L320.5 719L320.5 745L321.2 745L321.2 719L322 719L322 733L322.8 733L322.8 719L323.5 719L323.5 733L324.2 733L324.2 719L325 719L325 733L325.8 733L325.8 719L326.5 719L326.5 733L327.2 726L327.2 719L328 719L328 726L328.8 726L328.8 715L329.5 715L329.5 726L330.2 726L330.2 715L331 715L331 726L331.8 726L331.8 715L332.5 715L332.5 726L333.2 726L333.2 715L334 715L334 726L334.8 726L334.8 715L336.5 714.1L337.8 715.9L339 720.5L340.2 721.4L341.5 708.7L342.8 718.8L344 710.6L345.2 707.6L346.5 714.6L347.8 715.5L349 710.8L350.2 702L351.5 699.9L352.8 703.1L354 696L355.2 699L356.5 698.7L357.8 692.8L359 696L360.2 689.1L361.5 690.7L362.8 668L364 683.9L365.2 685L366.5 686L367.8 684.9L369 678.9L370.2 688L371.5 689.8L372.8 677.9L374 685.9L375.2 683.5L376.5 677.4L377.8 684.3L379 681.7L380.2 683.7L381.5 685.7L382.8 682.7L384 676.3L385.2 683.5L386.5 684.1L387.8 686.2L389 680.1L390.2 684.2L391.5 686.8L392.8 681.8L394 681.3L395.2 681L396.5 677.7L397.8 679.5L399 681.4L400.2 679.8L401.5 686.6L402.8 685.6L404 686.9L405.2 685.3L406.5 686.1L407.8 690.9L409 689.9L410.2 691.1L411.5 690.6L412.8 692.2L414 696.9L415.2 693.4L416.5 695.6L417.8 699.1L419 695.6L420.2 703.5L421.5 702.9L422.8 701.3L424 706.8L425.2 710L426.5 710.1L427.8 714L429 709.8L430.2 713.8L431.5 718.6L432.8 722.5L434 722L435.2 722.4L436.5 721.8L437.8 724.1L439 725.6L440.2 729.5L441.5 730.4L442.8 730.4L444 732.6L445.2 727.3L446.5 731.9L447.8 732.2L449 735.5L450.2 734.3L451.5 736.4L452.8 741L454 736.7L455.2 737.8L456.5 740.3L457.8 743.9L459 741L460.2 744.5L461.5 742L462.8 742.1L464 744.5L465.2 746.3L466.5 748.6L467.8 749.5L469 745.7L470.2 748.5L471.5 749L472.8 747.7L474 750.3L475.2 752.2L476.5 750.2L477.8 752.8L479 748.9L480.2 748.5L481.5 753.2L482.8 752.1L484 754L485.2 754.7L486.5 753.3L487.8 757.4L489 759.1L490.2 756.3L491.5 757L492.8 761.3L494 763.2L495.2 763.5L496.5 761.6L497.8 760.6L499 761.2L500.2 760.1L501.5 761.9L502.8 761.2L504 760.8L505.2 762.3L506.5 761.2L507.8 763.4L509 765.5L510.2 765.9L511.5 767.9L512.8 768.1L514 766.9L515.2 768.3L516.5 766.4L517.8 768L519 766L520.2 766.9L521.5 769.9L522.8 768.8L524 768.1L525.2 769.7L526.5 767.9L527.8 770.3L529 767L530.2 767.4L531.5 767.7L532.8 768.3L534 772.1L535.2 768.5L536.5 768.9L537.8 770.8L539 772L540.2 772.7L541.5 771L542.8 769.9L544 773L545.2 770.3L546.5 769.3L547.8 770.2L549 771.8L550.2 774.4L551.5 774L552.8 773L554 772.7L555.2 773.6L556.5 773.6L557.8 772.2L559 770.8L560.2 771.2L561.5 774.3L562.8 774.6L564 775.5L565.2 772.4L566.5 775.8L567.8 774.7L569 776.9L570.2 776.3L571.5 776L572.8 777.4L574 777L575.2 777.1L576.5 774.9L577.8 776.4L579 775.9L580.2 774.5L581.5 774.5L582.8 776.2L584 775.7L585.2 777.8L586.5 775.6L587.8 774.5L589 778.8L590.2 777L591.5 777.2L592.8 776.2L594 776L595.2 776.9L596.5 778.9L597.8 776.2L599 778.9L600.2 780.5L601.5 778.9L602.8 777.7L604 777L605.2 776.8L606.5 777.4L607.8 779.9L609 777L610.2 779.4L611.5 779.8L612.8 777.1L614 776.8L615.2 779.7L616.5 780.2L617.8 778.7L619 773L620.2 778.7L621.5 779L622.8 778L624 780L625.2 778.3L626.5 778.2L627.8 780.8L629 780.3L630.2 780.8L631.5 781.3L632.8 780.9L634 779.2L635.2 780.8L636.5 779L637.8 779.1L639 780L640.2 778.9L641.5 778.6L642.8 780.8L644 781.8L645.2 780.4L646.5 780.2L647.8 779.5L649 780.6L650.2 781.2L651.5 782.7L652.8 779.6L654 782.1L655.2 783.3L656.5 780.9L657.8 781.7L659 782.5L660.2 781.9L661.5 780.3L662.8 781.3L664 782.6L665.2 779.9L666.5 780.5L667.8 779.2L669 781.9L670.2 782.4L671.5 779.5L672.8 781.5L674 782L675.2 779.8L676.5 780.7L677.8 781.7L679 780.6L680.2 780.9L681.5 782.7L682.8 781.9L684 781L685.2 779.2L686.5 778.9L687.8 781.7L689 781.9L690.2 782.1L691.5 781.2L692.8 780.9L694 780.7L695.2 781.3L696.5 780L697.8 780.2L699 780.2L700.2 780.8L701.5 779.3L702.8 778.1L704 778.2L705.2 778.5L706.5 781L707.8 781.1L709 781.1L710.2 780L711.5 778.5L712.8 779.5L714 781.3L715.2 780.4L716.5 780.5L717.8 779.7L719 778.6L720.2 780.1L721.5 780.1L722.8 779.5L724 779.1L725.2 780.6L726.5 779.6L727.8 780.3L729 779.4L730.2 780.9L731.5 780L732.8 780L734 781.8L735.2 781.5L736.5 781.4L737.8 780L739 781.4L740.2 780.3L741.5 782L742.8 782.3L744 781.4L745.2 781.8L746.5 780.9L747.8 781.4L749 779.4L750.2 781.9L751.5 782L752.8 779.5L754 779.3L755.2 780.5L756.5 781.5L757.8 779.5L759 781.8L760.2 780.4L761.5 782.1L762.8 781.8L764 780.7L765.2 780L766.5 779L767.8 778.7L769 780.6L770.2 781.6L771.5 782.2L772.8 780.4L774 781.9L775.2 780L776.5 781.7L777.8 782.1L779 779.3L780.2 781.1L781.5 781.1L782.8 780.8L784 781.3L785.2 780.2L786.5 779.8L787.8 779.2L789 780.8L790.2 781.3L791.5 778.6L792.8 780.1L794 778.8L795.2 778L796.5 777.9L797.8 779.1L799 778.4L800.2 777.9L801.5 777.3L802.8 777.9L804 779.7L805.2 777.4L806.5 778.3L807.8 779.1L809 777.2L810.2 777.5L811.5 779.8L812.8 780.6L814 780.1L815.2 777.6L816.5 779L817.8 778.4L819 777.1L820.2 777.9L821.5 779.6L822.8 779.8L824 778.1L825.2 776.5L826.5 779L827.8 780L829 778.3L830.2 776.7L831.5 777.5L832.8 778.2L834 777.4L835.2 776.7L836.5 776.1L837.8 776L839 775.1L840.2 775.5L841.5 778L842.8 775.2L844 776.7L845.2 777.4L846.5 776L847.8 776.3L849 775L850.2 776.1L851.5 776.5L852.8 776.5L854 775.6L855.2 776.9L856.5 776.8L857.8 775.5L859 775.5L860.2 774.1L861.5 775.9L862.8 775.3L864 775.8L865.2 773.8L866.5 775.5L867.8 772.9L869 773.5L870.2 772.3L871.5 772.1L872.8 773.9L874 771.9L875.2 772.3L876.5 771.7L877.8 773.7L879 771.5L880.2 771.5L881.5 773.3L882.8 772.9L884 772.6L885.2 773.4L886.5 770.1L887.8 771.2L889 771.8L890.2 771.7L891.5 771.3L892.8 768.9L894 768.1L895.2 770.3L896.5 770.1L897.8 768.5L899 767.1L900.2 768.4L901.5 767.2L902.8 768.8L904 767.7L905.2 768.7L906.5 766.5L907.8 766.9L909 765.6L910.2 767.2L911.5 766.7L912.8 765.1L914 767L915.2 766.3L916.5 764.5L917.8 765.7L919 764.2L920.2 765.3L921.5 763.3L922.8 764.7L924 761.8L925.2 763L926.5 761.7L927.8 761.5L929 762L930.2 759.8L931.5 759.6L932.8 759L934 760.9L935.2 759.5L936.5 759.9L937.8 759.4L939 758.8L940.2 761L941.5 760L942.8 760L944 760.1L945.2 760.4L946.5 758.5L947.8 757.1L949 757.8L950.2 756.6L951.5 755.4L952.8 757.8L954 757.1L955.2 755.6L956.5 754L957.8 755.4L959 754.7L960.2 752.8L961.5 754.9L962.8 755.1L964 754.6L965.2 753.9L966.5 752.4L967.8 751L969 751.6L970.2 749.8L971.5 750.6L972.8 748.7L974 747.6L975.2 749.5L976.5 748.3L977.8 748.7L979 748.8L980.2 748.6L981.5 747.4L982.8 747.5L984 746.6L985.2 746.9L986.5 746.5L987.8 743.1L989 742.7L990.2 742.8L991.5 741.9L992.8 741L994 742.8L995.2 740.1L996.5 739.4L997.8 741L999 739.2L1000.2 738.2L1001.5 739.6L1002.8 738.4L1004 736.1L1005.2 733.8L1006.5 732.9L1007.8 734.3L1009 733.2L1010.2 729.7L1011.5 730.7L1012.8 729.6L1014 729.9L1015.2 728.2L1016.5 726.8L1017.8 725.7L1019 726L1020.2 727.7L1021.5 727.7L1022.8 726.5L1024 726L1025.2 723.7L1026.5 723.3L1027.8 724.7L1029 725L1030.2 722.7L1031.5 722.9L1032.8 723.2L1034 723L1035.2 720.6L1036.5 721L1037.8 720.3L1039 720.2L1040.2 720.1L1041.5 719.3L1042.8 718.1L1044 720.2L1045.2 720.5L1046.5 720.8L1047.8 718.4L1049 717.9L1050.2 719.1L1051.5 720.4L1052.8 718.9L1054 717.5L1055.2 718.4L1056.5 719.8L1057.8 719.7L1059 719.7L1060.2 718L1061.5 717.1L1062.8 719L1064 719.3L1065.2 719.4L1066.5 717.9L1067.8 717.2L1069 717.1L1070.2 719.3L1071.5 720.1L1072.8 718.3L1074 719.7L1075.2 718.6L1076.5 718.5L1077.8 719L1079 718L1080.2 718L1081.5 718.1L1082.8 718.2L1084 719.2L1085.2 718.1L1086.5 720.1L1087.8 718.7L1089 719.2L1090.2 720.2L1091.5 718.8L1092.8 719.4L1094 720.2L1095.2 720.4L1096.5 721.6L1097.8 721.6L1099 719.4L1100.2 721.3L1101.5 721.1L1102.8 721.3L1104 719.8L1105.2 720.5L1106.5 721.6L1107.8 722.3L1109 722.7L1110.2 721.1L1111.5 722.9L1112.8 722.8L1114 723.2L1115.2 724.2L1116.5 723.2L1117.8 724.8L1119 725.4L1120.2 725.4L1121.5 724.1L1122.8 724.4L1124 723.5L1125.2 725.4L1126.5 726.5L1127.8 724.3L1129 725.9L1130.2 726.4L1131.5 724.3L1132.8 726.9L1134 726.4L1135.2 725.5L1136.5 724.7L1137.8 727.2L1139 726.5L1140.2 726.9L1141.5 726.2L1142.8 727.5L1144 727.3L1145.2 728.7L1146.5 728.7L1147.8 729L1149 727.7L1150.2 726.9L1151.5 729.7L1152.8 730.8L1154 730.1L1155.2 731L1156.5 730.7L1157.8 730.4L1159 729.9L1160.2 729.7L1161.5 730.4L1162.8 729.8L1164 730.5L1165.2 731.1L1166.5 729.8L1167.8 730.8L1169 731L1170.2 732.3L1171.5 733.4L1172.8 733.1L1174 733.2L1175.2 733.1L1176.5 732L1177.8 732.1L1179 733.9L1180.2 734.7L1181.5 732.3L1182.8 731.1L1184 734.3L1185.2 734.8L1186.5 733.9L1187.8 734.5L1189 734L1190.2 734.9L1191.5 733L1192.8 733.2L1194 734.2L1195.2 732.9L1196.5 734.3L1197.8 733.3L1199 734.5L1200.2 735.2L1201.5 734L1202.8 735.6L1204 734.9L1205.2 735L1206.5 732.6L1207.8 732.3L1209 734.4L1210.2 735.7L1211.5 734.8L1212.8 735.5L1214 732.9L1215.2 734.9L1216.5 735.6L1217.8 734.8L1219 733.9L1220.2 734.6L1221.5 733.3L1222.8 734.3L1224 734.8L1225.2 734.3L1226.5 733.2L1227.8 732.1L1229 732.4L1230.2 734.7L1231.5 733.1L1232.8 732L1234 732.4L1235.2 733.4L1236.5 733.8L1237.8 734.7L1239 734.8L1240.2 735.1L1241.5 734.8L1242.8 733.2L1244 731.8L1245.2 734.2L1246.5 732.3L1247.8 733L1249 732L1250.2 733.5L1251.5 731.8L1252.8 732L1254 731.5L1255.2 733.4L1256.5 733.1L1257.8 732.9L1259 731.8L1260.2 731L1261.5 733.1L1262.8 733.3L1264 733.1L1265.2 733.9L1266.5 732.6L1267.8 730.9L1269 732L1270.2 731.2L1271.5 731.7L1272.8 731.6L1274 731.9L1275.2 733.1L1276.5 733L1277.8 731.6L1279 732.5L1280.2 733L1281.5 732.6L1282.8 731.8L1284 732.7L1285.2 731.5L1286.5 729.8L1287.8 730L1289 731.3L1290.2 730.7L1291.5 730.5L1292.8 730.4L1294 729.6L1295.2 729L1296.5 728.7L1297.8 730.7L1299 730L1300.2 730.1L1301.5 731.7L1302.8 731L1304 731.3L1305.2 731.2L1306.5 731.8L1307.8 728.9L1309 729.2L1310.2 731.3L1311.5 730.1L1312.8 731.3L1314 729.1L1315.2 728L1316.5 730.6L1317.8 729.6L1319 729.5L1320.2 731L1321.5 728.9L1322.8 730.8L1324 729.4L1325.2 728.4L1326.5 728.2L1327.8 729.1L1329 729.1L1330.2 730.4L1331.5 727.9L1332.8 727.1L1334 727.5L1335.2 729L1336.5 730L1337.8 729.1L1339 729.2L1340.2 729.4L1341.5 727.3L1342.8 727.5L1344 730.2L1345.2 728.5L1346.5 730L1347.8 728.9L1349 727.6L1350.2 726.6L1351.5 727.1L1352.8 727.6L1354 728.1L1355.2 728.1L1356.5 728.5L1357.8 728.3L1359 726.7L1360.2 727.1L1361.5 729.5L1362.8 727L1364 728.5L1365.2 728.2L1366.5 728.7L1367.8 727.6L1369 727.5L1370.2 728L1371.5 729.5L1372.8 728L1374 726.7L1375.2 726.4L1376.5 729.3L1377.8 728.1L1379 727.1L1380.2 728.5L1381.5 729.8L1382.8 729.3L1384 727.6L1385.2 728.2L1386.5 728L1387.8 727.1L1389 730.1L1390.2 729.2L1391.5 727.8L1392.8 730.1L1394 731.1L1395.2 730.7L1396.5 728.7L1397.8 728.1L1399 729.2L1400.2 729.7L1401.5 730.8L1402.8 731.4L1404 731.4L1405.2 729.5L1406.5 729.9L1407.8 728.6L1409 729.6L1410.2 728.4L1411.5 728.3L1412.8 728.4L1414 729L1415.2 729.3L1416.5 730.7L1417.8 728.9L1419 728.6L1420.2 730.5L1421.5 731.1L1422.8 731.3L1424 731.4L1425.2 731.3L1426.5 730.9L1427.8 731.5L1429 729.5L1430.2 729.4L1431.5 731.4L1432.8 730L1434 730.8L1435.2 730.2L1436.5 730.6L1437.8 732.1L1439 731.9L1440.2 731.1L1441.5 730.4L1442.8 732.1L1444 732.1L1445.2 731.3L1446.5 732.6L1447.8 732.4L1449 733.3L1450.2 732.5L1451.5 733.1L1452.8 732.1L1454 732.4L1455.2 733.1L1456.5 730.7L1457.8 731.4L1459 732.2L1460.2 730.5L1461.5 732.6" fill="none" stroke="#ff0000" stroke-width="8" stroke-linejoin="round" stroke-linecap="round"/>
<path d="M553.4 38.2V68.6M553.4 84.8V115.2M553.4 131.4V161.8M553.4 178V208.4M553.4 224.6V255M553.4 271.2V301.6M553.4 317.8V348.2M553.4 364.4V394.8M553.4 411V441.4M553.4 457.6V488M553.4 504.2V534.6M553.4 550.8V581.2M553.4 597.4V627.8M553.4 644V674.4M553.4 690.6V721M553.4 737.2V767.6M553.4 783.8V812.7" stroke="#1fff00" stroke-width="4.8" fill="none"/>
<path d="M612.5 38.2V68.6M612.5 84.8V115.2M612.5 131.4V161.8M612.5 178V208.4M612.5 224.6V255M612.5 271.2V301.6M612.5 317.8V348.2M612.5 364.4V394.8M612.5 411V441.4M612.5 457.6V488M612.5 504.2V534.6M612.5 550.8V581.2M612.5 597.4V627.8M612.5 644V674.4M612.5 690.6V721M612.5 737.2V767.6M612.5 783.8V812.7" stroke="#040cff" stroke-width="4.8" fill="none"/>
<path d="M688.4 38.2V68.6M688.4 84.8V115.2M688.4 131.4V161.8M688.4 178V208.4M688.4 224.6V255M688.4 271.2V301.6M688.4 317.8V348.2M688.4 364.4V394.8M688.4 411V441.4M688.4 457.6V488M688.4 504.2V534.6M688.4 550.8V581.2M688.4 597.4V627.8M688.4 644V674.4M688.4 690.6V721M688.4 737.2V767.6M688.4 783.8V812.7" stroke="#ff0000" stroke-width="4.8" fill="none"/>
<rect x="1145.5" y="56.5" width="285" height="215" fill="#fff" stroke="#000" stroke-width="3"/>
<path d="M1157 95H1273.6" stroke="#1fff00" stroke-width="8"/>
<path d="M1157 163.7H1273.6" stroke="#040cff" stroke-width="8"/>
<path d="M1157 232H1273.6" stroke="#ff0000" stroke-width="8"/>
<path d="M219.5 1192.5H1496.4V1990.5H219.5ZM219.5 1724.5h13.5M1496.4 1724.5h-13.5M219.5 1458.5h13.5M1496.4 1458.5h-13.5M398.7 1990.5v-13.5M398.7 1192.5v13.5M577.8 1990.5v-13.5M577.8 1192.5v13.5M757 1990.5v-13.5M757 1192.5v13.5M936.1 1990.5v-13.5M936.1 1192.5v13.5M1115.3 1990.5v-13.5M1115.3 1192.5v13.5M1294.5 1990.5v-13.5M1294.5 1192.5v13.5M1473.6 1990.5v-13.5M1473.6 1192.5v13.5" fill="none" stroke="#000" stroke-width="3" stroke-linecap="square"/>
<g stroke="#1fff00" fill="none" stroke-width="8">
<path d="M219.5 1853.4L309.1 1892.6L398.7 1596.8L488.2 1386.6L577.8 1897.6L667.4 1987.7" stroke-linejoin="round"/>
<path d="M219.5 1845.7V1861.1M207.5 1845.7h24M207.5 1861.1h24M309.1 1877.6V1907.6M297.1 1877.6h24M297.1 1907.6h24M398.7 1564.4V1629.2M386.7 1564.4h24M386.7 1629.2h24M488.2 1374.4V1398.8M476.2 1374.4h24M476.2 1398.8h24M577.8 1877.1V1918.1M565.8 1877.1h24M565.8 1918.1h24M667.4 1984.7V1990.7M655.4 1984.7h24M655.4 1990.7h24"/>
<circle cx="219.5" cy="1853.4" r="9.5"/>
<circle cx="309.1" cy="1892.6" r="9.5"/>
<circle cx="398.7" cy="1596.8" r="9.5"/>
<circle cx="488.2" cy="1386.6" r="9.5"/>
<circle cx="577.8" cy="1897.6" r="9.5"/>
<circle cx="667.4" cy="1987.7" r="9.5"/>
</g>
<g stroke="#040cff" fill="none" stroke-width="8">
<path d="M219.5 1985.5L309.1 1984L398.7 1932.5L488.2 1798.8L577.8 1660.8L667.4 1599.2L757 1726.8L846.6 1922L936.1 1978.4L1025.7 1989.3" stroke-linejoin="round"/>
<path d="M207.5 1985.5h24M297.1 1984h24M398.7 1929.5V1935.5M386.7 1929.5h24M386.7 1935.5h24M488.2 1778.8V1818.8M476.2 1778.8h24M476.2 1818.8h24M577.8 1650.3V1671.3M565.8 1650.3h24M565.8 1671.3h24M667.4 1574.6V1623.8M655.4 1574.6h24M655.4 1623.8h24M757 1714.8V1738.8M745 1714.8h24M745 1738.8h24M846.6 1911V1933M834.6 1911h24M834.6 1933h24M936.1 1975.4V1981.4M924.1 1975.4h24M924.1 1981.4h24M1013.7 1989.3h24"/>
<circle cx="219.5" cy="1985.5" r="9.5"/>
<circle cx="309.1" cy="1984" r="9.5"/>
<circle cx="398.7" cy="1932.5" r="9.5"/>
<circle cx="488.2" cy="1798.8" r="9.5"/>
<circle cx="577.8" cy="1660.8" r="9.5"/>
<circle cx="667.4" cy="1599.2" r="9.5"/>
<circle cx="757" cy="1726.8" r="9.5"/>
<circle cx="846.6" cy="1922" r="9.5"/>
<circle cx="936.1" cy="1978.4" r="9.5"/>
<circle cx="1025.7" cy="1989.3" r="9.5"/>
</g>
<g stroke="#ff0000" fill="none" stroke-width="8">
<path d="M219.5 1990.7L309.1 1990.7L398.7 1990.7L488.2 1990.5L577.8 1983.3L667.4 1962.7L757 1915.5L846.6 1797.2L936.1 1677.7L1025.7 1651.2L1115.3 1757L1204.8 1882.6L1294.5 1962.7L1384 1988.3L1473.6 1990.3" stroke-linejoin="round"/>
<path d="M207.5 1990.7h24M297.1 1990.7h24M386.7 1990.7h24M476.2 1990.5h24M577.8 1980.3V1986.3M565.8 1980.3h24M565.8 1986.3h24M667.4 1959.7V1965.7M655.4 1959.7h24M655.4 1965.7h24M757 1904.9V1926.1M745 1904.9h24M745 1926.1h24M846.6 1784.9V1809.5M834.6 1784.9h24M834.6 1809.5h24M936.1 1663V1692.4M924.1 1663h24M924.1 1692.4h24M1025.7 1648.2V1654.2M1013.7 1648.2h24M1013.7 1654.2h24M1115.3 1733V1781M1103.3 1733h24M1103.3 1781h24M1204.8 1861.9V1903.3M1192.8 1861.9h24M1192.8 1903.3h24M1294.5 1959.7V1965.7M1282.5 1959.7h24M1282.5 1965.7h24M1372 1988.3h24M1461.6 1990.3h24"/>
<circle cx="219.5" cy="1990.7" r="9.5"/>
<circle cx="309.1" cy="1990.7" r="9.5"/>
<circle cx="398.7" cy="1990.7" r="9.5"/>
<circle cx="488.2" cy="1990.5" r="9.5"/>
<circle cx="577.8" cy="1983.3" r="9.5"/>
<circle cx="667.4" cy="1962.7" r="9.5"/>
<circle cx="757" cy="1915.5" r="9.5"/>
<circle cx="846.6" cy="1797.2" r="9.5"/>
<circle cx="936.1" cy="1677.7" r="9.5"/>
<circle cx="1025.7" cy="1651.2" r="9.5"/>
<circle cx="1115.3" cy="1757" r="9.5"/>
<circle cx="1204.8" cy="1882.6" r="9.5"/>
<circle cx="1294.5" cy="1962.7" r="9.5"/>
<circle cx="1384" cy="1988.3" r="9.5"/>
<circle cx="1473.6" cy="1990.3" r="9.5"/>
</g>
<rect x="1179.3" y="1222.5" width="285.2" height="215" fill="#fff" stroke="#000" stroke-width="3"/>
<g stroke="#1fff00" fill="none" stroke-width="8">
<path d="M1190.3 1261.7H1307.8M1249 1234.9V1288.5M1237 1234.9h24M1237 1288.5h24"/>
<circle cx="1249" cy="1261.7" r="9.5"/>
</g>
<g stroke="#040cff" fill="none" stroke-width="8">
<path d="M1190.3 1329.9H1307.8M1249 1303.1V1356.7M1237 1303.1h24M1237 1356.7h24"/>
<circle cx="1249" cy="1329.9" r="9.5"/>
</g>
<g stroke="#ff0000" fill="none" stroke-width="8">
<path d="M1190.3 1398H1307.8M1249 1371.2V1424.8M1237 1371.2h24M1237 1424.8h24"/>
<circle cx="1249" cy="1398" r="9.5"/>
</g>
<g fill="#000" font-size="100">
<path d="M120 -0.4V44.5H113.6V12.7H104V7.7C109.5 7.5 113.4 5.7 115.2 -0.4Z"/>
<text class="s" transform="matrix(0.6271 0 0 0.6479 132.3917 44.9521)">0</text>
<text class="s" transform="matrix(0.6596 0 0 0.6577 138.0617 203.0423)">8</text>
<text class="s" transform="matrix(0.6783 0 0 0.6577 137.3087 360.8423)">6</text>
<text class="s" transform="matrix(0.6275 0 0 0.6706 138.8451 518.9706)">4</text>
<text class="s" transform="matrix(0.6543 0 0 0.6443 137.6283 675.8)">2</text>
<text class="s" transform="matrix(0.625 0 0 0.6465 138.5 834.1535)">0</text>
<text class="s" transform="matrix(0.6167 0 0 0.6465 179.5333 892.0535)">0</text>
<text class="s" transform="matrix(0.6275 0 0 0.6394 570.9901 891.7606)">0.5</text>
<path d="M1043 846.8V891.7H1036.6V859.9H1027V854.9C1032.5 854.7 1036.4 852.9 1038.2 846.8Z"/>
<path d="M1435 846.8V891.7H1428.6V859.9H1419V854.9C1424.5 854.7 1428.4 852.9 1430.2 846.8Z"/>
<text class="s" transform="matrix(0.64 0 0 0.6543 1446.64 892.1457)">.5</text>
<text class="s" transform="matrix(0.6282 0 0 0.6437 99.987 1214.2563)">0.6</text>
<text class="s" transform="matrix(0.6235 0 0 0.6479 100.0061 1479.8521)">0.4</text>
<text class="s" transform="matrix(0.6331 0 0 0.6451 99.8677 1746.1549)">0.2</text>
<text class="s" transform="matrix(0.625 0 0 0.6479 158.3 2012.3521)">0</text>
<text class="s" transform="matrix(0.6375 0 0 0.6479 198.35 2070.0521)">0</text>
<text class="s" transform="matrix(0.6674 0 0 0.6429 376.663 2070)">2</text>
<text class="s" transform="matrix(0.6118 0 0 0.6603 557.5765 2070.5603)">4</text>
<text class="s" transform="matrix(0.6783 0 0 0.6423 735.0087 2070.1577)">6</text>
<text class="s" transform="matrix(0.6596 0 0 0.6549 914.5617 2070.3451)">8</text>
<path d="M1096.9 2024.8V2069.7H1090.5V2037.9H1080.9V2032.9C1086.4 2032.7 1090.3 2030.9 1092.1 2024.8Z"/>
<text class="s" transform="matrix(0.6167 0 0 0.6451 1108.8333 2070.0549)">0</text>
<path d="M1276 2025V2069.9H1269.6V2038.1H1260V2033.1C1265.5 2032.9 1269.4 2031.1 1271.2 2025Z"/>
<text class="s" transform="matrix(0.65 0 0 0.6429 1286.85 2069.9)">2</text>
<path d="M1455 2024.9V2069.8H1448.6V2038H1439V2033C1444.5 2032.8 1448.4 2031 1450.2 2024.9Z"/>
<text class="s" transform="matrix(0.6118 0 0 0.6603 1467.7765 2070.4603)">4</text>
<text class="m" stroke="#000" stroke-width="0.6" transform="matrix(0.9333 0 0 0.7978 738.1333 978.7978)">r</text>
<text class="m" transform="matrix(0.7067 0 0 0.988 771.8733 977.88)">,</text>
<text class="m" stroke="#000" stroke-width="0.6" transform="matrix(0.8913 0 0 0.7809 815.9174 978)">n</text>
<text class="m" stroke="#000" stroke-width="0.6" transform="matrix(0.8473 0 0 0.7809 859.6054 978)">m</text>
<text class="m" transform="matrix(0.5923 0 0 0.7111 728.9308 1075.8667)">(</text>
<text class="m" transform="matrix(0.7667 0 0 0.6208 749.2333 1075.1792)">a</text>
<text class="m" transform="matrix(0.6077 0 0 0.7111 783.1769 1075.8667)">)</text>
<text class="m" transform="matrix(0.5538 0 0 0.7111 727.3846 2251.0667)">(</text>
<text class="m" transform="matrix(0.6957 0 0 0.64 750.4 2250.16)">b</text>
<text class="m" transform="matrix(0.5846 0 0 0.7111 785.4462 2251.0667)">)</text>
<text class="m" transform="matrix(0.8696 0 0 0.766 814.2609 2156.4)">n</text>
<g fill="none" stroke="#000" stroke-linecap="round" stroke-linejoin="round"><path stroke-width="3.2" d="M858.9 2151.5C861 2147 863.5 2144 866.5 2144C869 2144 869.5 2146.5 868.8 2149C867.5 2153 866 2157 866 2160.5C866 2164.5 868 2167 871 2167C874.5 2167 877 2164.5 878 2161"/><path stroke-width="4.6" d="M881.6 2145.2L878 2160"/><path stroke-width="3.2" d="M878.3 2160.5C878.5 2164.5 880.5 2167 884 2167C889 2167 893 2159 894.6 2151C895.3 2147.5 894.5 2145.3 893 2145.5"/><circle cx="893.2" cy="2146.3" r="2.3" fill="#000" stroke="none"/></g>
<text class="m" font-style="italic" transform="matrix(0 -0.7872 0.7485 0 58.9809 486)">g</text>
<text class="m" stroke="#fff" stroke-width="1.6" transform="matrix(0 -0.7846 0.9044 0 60.3067 443.3385)">(</text>
<text class="m" font-style="italic" transform="matrix(0 -0.9086 0.7702 0 60 417.8343)">r</text>
<text class="m" stroke="#fff" stroke-width="1.6" transform="matrix(0 -0.7962 0.9044 0 60.3067 378.5885)">)</text>
<text class="m" font-style="italic" stroke="#fff" stroke-width="1.6" transform="matrix(0 -0.9864 0.8508 0 61.7 1695.5)">P</text>
<text class="m" stroke="#fff" stroke-width="1.6" transform="matrix(0 -0.7846 0.9044 0 62.7067 1633.7385)">(</text>
<text class="m" font-style="italic" stroke="#fff" stroke-width="1.6" transform="matrix(0 -1.019 0.783 0 62.4 1609.4762)">n</text>
<g transform="matrix(0 -0.9867 0.9621 0 48.2 1558.9) translate(-858.4 -2142)" fill="none" stroke="#000" stroke-linecap="round" stroke-linejoin="round"><path stroke-width="3.2" d="M858.9 2151.5C861 2147 863.5 2144 866.5 2144C869 2144 869.5 2146.5 868.8 2149C867.5 2153 866 2157 866 2160.5C866 2164.5 868 2167 871 2167C874.5 2167 877 2164.5 878 2161"/><path stroke-width="4.6" d="M881.6 2145.2L878 2160"/><path stroke-width="3.2" d="M878.3 2160.5C878.5 2164.5 880.5 2167 884 2167C889 2167 893 2159 894.6 2151C895.3 2147.5 894.5 2145.3 893 2145.5"/><circle cx="893.2" cy="2146.3" r="2.3" fill="#000" stroke="none"/></g>
<text class="m" stroke="#fff" stroke-width="1.6" transform="matrix(0 -0.7808 0.9033 0 62.73 1514.7423)">)</text>
<g transform="translate(0 0)" fill="none" stroke="#000" stroke-linecap="round" stroke-linejoin="round"><path stroke-width="2.8" d="M1306.2 101C1304.5 96 1302 93.8 1298.5 93.8C1290.5 93.8 1285.6 102 1285.6 108.5C1285.6 113.5 1288.5 116.3 1292.8 116.3C1298.5 116.3 1303.5 112.5 1306.5 108.5"/><path stroke-width="3.8" d="M1290.5 97.5C1287 101 1285.9 106 1286.3 111.5"/><path stroke-width="4.2" d="M1305.6 100C1306.1 105 1306.3 111 1306.8 115"/><path stroke-width="2.6" d="M1307.5 109L1314.4 96.2"/><path stroke-width="2.6" d="M1306.8 114.8C1307.8 117.2 1310.5 117.4 1313.4 113.6"/><path stroke-width="2.4" d="M1284.3 193.6L1288.6 177.5C1290.5 168 1291.5 161 1293.5 155C1296 148.8 1300.5 146.2 1305 146.2C1309.5 146.2 1312.6 148.2 1312.6 152C1312.6 156.5 1310 159.5 1305.5 161.5"/><path stroke-width="3.4" d="M1312 148.8C1313.2 152 1312 156.3 1308.5 159.3"/><path stroke-width="2.8" d="M1298.9 161.8L1305.5 161.8"/><path stroke-width="2.4" d="M1305.5 161.9C1309.5 162.5 1311.5 165.5 1311.5 170C1311.5 177 1305 183.2 1297.5 183.2C1293 183.2 1290 181 1288.8 177.5"/><path stroke-width="3.6" d="M1311 167C1311.3 172 1309 178 1304 181.3"/><path stroke-width="3" d="M1284.3 193.6L1286.5 185"/><path stroke-width="2.8" d="M1285 239.5C1286.8 234.8 1289.5 232.6 1293.3 232.6C1298.5 232.6 1301.5 236.5 1302.2 242C1302.8 247 1302.5 252 1301.5 257L1299.5 263.8"/><path stroke-width="3.6" d="M1302 243C1302.6 248 1302 254 1300.4 260.5"/><path stroke-width="2.4" d="M1310.8 231.3L1302.6 248.3"/></g>
<text class="s" transform="matrix(0.5444 0 0 0.6028 1316.8225 118.3972)">-CD</text>
<text class="s" transform="matrix(0.5444 0 0 0.5986 1313.8225 184.9014)">-CD</text>
<text class="s" transform="matrix(0.5444 0 0 0.5986 1310.8225 254.9014)">-CD</text>
<g transform="translate(33.4 1166.5)" fill="none" stroke="#000" stroke-linecap="round" stroke-linejoin="round"><path stroke-width="2.8" d="M1306.2 101C1304.5 96 1302 93.8 1298.5 93.8C1290.5 93.8 1285.6 102 1285.6 108.5C1285.6 113.5 1288.5 116.3 1292.8 116.3C1298.5 116.3 1303.5 112.5 1306.5 108.5"/><path stroke-width="3.8" d="M1290.5 97.5C1287 101 1285.9 106 1286.3 111.5"/><path stroke-width="4.2" d="M1305.6 100C1306.1 105 1306.3 111 1306.8 115"/><path stroke-width="2.6" d="M1307.5 109L1314.4 96.2"/><path stroke-width="2.6" d="M1306.8 114.8C1307.8 117.2 1310.5 117.4 1313.4 113.6"/><path stroke-width="2.4" d="M1284.3 193.6L1288.6 177.5C1290.5 168 1291.5 161 1293.5 155C1296 148.8 1300.5 146.2 1305 146.2C1309.5 146.2 1312.6 148.2 1312.6 152C1312.6 156.5 1310 159.5 1305.5 161.5"/><path stroke-width="3.4" d="M1312 148.8C1313.2 152 1312 156.3 1308.5 159.3"/><path stroke-width="2.8" d="M1298.9 161.8L1305.5 161.8"/><path stroke-width="2.4" d="M1305.5 161.9C1309.5 162.5 1311.5 165.5 1311.5 170C1311.5 177 1305 183.2 1297.5 183.2C1293 183.2 1290 181 1288.8 177.5"/><path stroke-width="3.6" d="M1311 167C1311.3 172 1309 178 1304 181.3"/><path stroke-width="3" d="M1284.3 193.6L1286.5 185"/><path stroke-width="2.8" d="M1285 239.5C1286.8 234.8 1289.5 232.6 1293.3 232.6C1298.5 232.6 1301.5 236.5 1302.2 242C1302.8 247 1302.5 252 1301.5 257L1299.5 263.8"/><path stroke-width="3.6" d="M1302 243C1302.6 248 1302 254 1300.4 260.5"/><path stroke-width="2.4" d="M1310.8 231.3L1302.6 248.3"/></g>
<text class="s" transform="matrix(0.5444 0 0 0.6028 1350.2225 1284.8972)">-CD</text>
<text class="s" transform="matrix(0.5444 0 0 0.5986 1347.2225 1351.4014)">-CD</text>
<text class="s" transform="matrix(0.5444 0 0 0.5986 1344.2225 1421.4014)">-CD</text>
</g>
</svg></body></html>
